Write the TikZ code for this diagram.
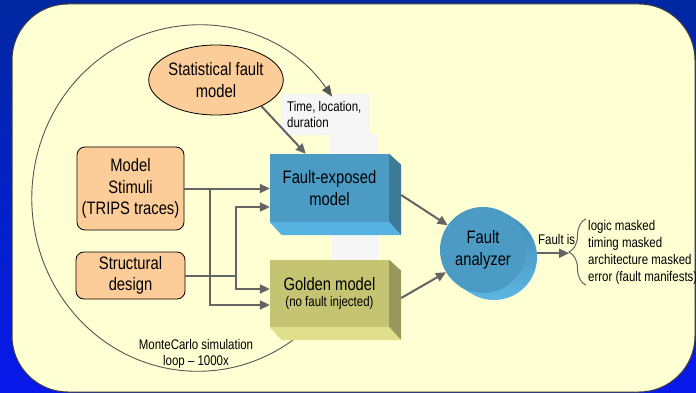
\documentclass[tikz,border=0pt]{standalone}
\usepackage{fontspec}
\setmainfont{Liberation Sans}[FakeStretch=0.82]
\usetikzlibrary{arrows.meta,shapes.geometric,decorations.pathreplacing,calc}

\definecolor{bgtop}{RGB}{0,40,160}
\definecolor{bgbot}{RGB}{8,24,235}
\definecolor{panelfill}{RGB}{255,255,212}
\definecolor{panelline}{RGB}{60,60,60}
\definecolor{peach}{RGB}{252,204,153}
\definecolor{linegray}{RGB}{100,100,100}
\definecolor{arcgray}{RGB}{85,85,85}
\definecolor{labelfill}{RGB}{246,246,246}
\definecolor{bluefront}{RGB}{76,155,196}
\definecolor{blueside}{RGB}{60,122,152}
\definecolor{bluebottom}{RGB}{86,178,224}
\definecolor{bluerimdark}{RGB}{68,140,180}
\definecolor{bluerimlight}{RGB}{92,182,226}
\definecolor{olivefront}{RGB}{196,196,114}
\definecolor{oliveside}{RGB}{152,152,92}
\definecolor{olivebottom}{RGB}{224,224,140}

\begin{document}
\begin{tikzpicture}[x=1pt,y=-1pt,
  bigtext/.style={font=\fontsize{18}{21.5}\selectfont},
  smalltext/.style={font=\fontsize{14}{16.5}\selectfont},
  peachbox/.style={draw=black, line width=0.8pt, fill=peach, rounded corners=8pt,
    inner sep=0pt, align=center, bigtext},
  frontface/.style={inner sep=0pt, align=center, bigtext},
  arr/.style={draw=linegray, line width=2pt, -{Triangle[length=10pt,width=9pt]}},
  looparc/.style={draw=arcgray, line width=0.9pt, -{Triangle[length=11pt,width=9pt]}},
  result/.style={draw=linegray, line width=1pt,
    decorate, decoration={brace, amplitude=17pt}},
]
\useasboundingbox (0,0) rectangle (696,393);

% backdrop and panel
\shade[top color=bgtop, bottom color=bgbot] (0,0) rectangle (696,393);
\draw[fill=panelfill, draw=panelline, line width=1pt, rounded corners=56pt]
  (12,4) rectangle (695,392);

% light label areas
\node[fill=labelfill, minimum width=89pt, minimum height=41pt, anchor=north west,
  inner sep=0pt] (tldbox) at (281,94) {};
\fill[labelfill] (330,134) rectangle (378,154);
\fill[labelfill] (332,235) rectangle (379,260);
\node[smalltext, align=left, anchor=north west, inner sep=0pt] (tld) at (287,101)
  {Time, location,\\duration};

% Monte Carlo loop
\coordinate (loopstart) at (293,340);
\draw[looparc] (loopstart) arc[start angle=55, end angle=324, x radius=166, y radius=173];
\node[smalltext, align=center] (mc) at (196,354) {MonteCarlo simulation\\loop -- 1000x};

% inputs
\node[draw=black, line width=0.8pt, fill=peach, ellipse, minimum width=130pt,
  minimum height=70pt, inner sep=0pt, align=center, bigtext] (stat) at (216,80)
  {Statistical fault\\model};
\node[peachbox, minimum width=107pt, minimum height=83pt] (stim) at (130.5,188.5)
  {Model\\Stimuli\\(TRIPS traces)};
\node[peachbox, minimum width=109pt, minimum height=47pt] (struct) at (130.5,275.5)
  {Structural\\design};

% fault-exposed model block
\node[frontface, fill=bluefront, minimum width=119pt, minimum height=68pt] (fexp)
  at (329.5,188) {Fault-exposed\\model};
\fill[blueside] (fexp.north east) -- ($(fexp.north east)+(12,11)$)
  -- ($(fexp.south east)+(12,13)$) -- (fexp.south east) -- cycle;
\fill[bluebottom] (fexp.south west) -- (fexp.south east)
  -- ($(fexp.south east)+(12,13)$) -- ($(fexp.south west)+(12,13)$) -- cycle;

% golden model block
\node[frontface, fill=olivefront, minimum width=119pt, minimum height=67pt] (gold)
  at (329.5,293.5) {Golden model\\[-5pt]{\fontsize{14}{16}\selectfont(no fault injected)}};
\fill[oliveside] (gold.north east) -- ($(gold.north east)+(12,11)$)
  -- ($(gold.south east)+(12,13)$) -- (gold.south east) -- cycle;
\fill[olivebottom] (gold.south west) -- (gold.south east)
  -- ($(gold.south east)+(12,13)$) -- ($(gold.south west)+(12,13)$) -- cycle;

% fault analyzer drum
\node[circle, minimum size=86pt, inner sep=0pt] (fab) at (494,257) {};
\node[circle, minimum size=86pt, inner sep=0pt] (fa) at (483,250) {};
\shade[top color=bluerimdark, bottom color=bluerimlight] (fab.center) circle[radius=43];
\shade[top color=bluerimdark, bottom color=bluerimlight]
  (fa.237.5) -- (fa.57.5) -- (fab.57.5) -- (fab.237.5) -- cycle;
\fill[bluefront] (fa.center) circle[radius=43];
\node[bigtext, align=center] (fatext) at (fa.center) {Fault\\analyzer};

% outcome list
\node[font=\fontsize{14}{17}\selectfont, align=left, anchor=west, inner sep=0pt] (res)
  at (588,252) {logic masked\\timing masked\\architecture masked\\error (fault manifests)};
\draw[result] ($(res.south west)+(-2,1)$) -- ($(res.north west)+(-2,-1)$);
\coordinate (tip) at ($(res.west)+(-19,0)$);
\node[smalltext, anchor=base west, inner sep=0pt] (fis) at (538,244) {Fault is};

% connectors
\draw[arr] (stat.-30) -- ($(fexp.north west)+(36,0)$);
\draw[arr] (stim.east) -- (stim.east -| fexp.west);
\coordinate (j1) at (210,188.5);
\draw[arr] (j1) |- ($(gold.west)+(0,11.5)$);
\draw[line width=2pt, draw=linegray] (struct.east) -- (236,275.5) coordinate (j2);
\draw[arr] (j2) |- ($(fexp.west)+(0,19)$);
\draw[arr] (j2) |- ($(gold.west)+(0,-4.5)$);
\draw[arr] ($(fexp.east)+(12,7)$) -- (fa.145);
\draw[arr] ($(gold.east)+(12,4.5)$) -- (fa.211);
\draw[arr] (fab.5) -- (fab.5 -| tip);
\end{tikzpicture}
\end{document}
